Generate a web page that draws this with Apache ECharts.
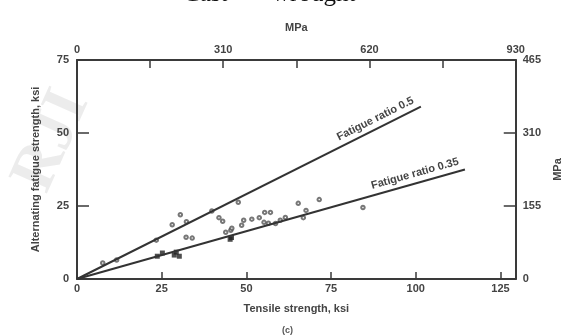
<!DOCTYPE html>
<html>
<head>
<meta charset="utf-8">
<script src="https://cdn.jsdelivr.net/npm/echarts@6/dist/echarts.min.js"></script>
<style>
  html, body { margin: 0; padding: 0; background: #fff; }
  #chart { width: 571px; height: 336px; }
</style>
</head>
<body>
<div id="chart"></div>
<script>
// tensile strength (ksi) vs alternating fatigue strength (ksi)
var openPoints = [
  [7.6, 5.5], [11.7, 6.5], [23.4, 13.3], [28.1, 18.6], [30.5, 22], [32.3, 19.6],
  [32.2, 14.3], [34, 14], [39.8, 23.3], [41.9, 21], [43, 19.8], [43.9, 16],
  [45.4, 16.7], [45.7, 17.4], [47.6, 26.3], [48.6, 18.4], [49.2, 20.1], [51.6, 20.5],
  [53.8, 21], [55.4, 22.8], [57.1, 22.8], [55.2, 19.4], [56.5, 19.1], [58.6, 19],
  [60, 20.1], [61.5, 21.1], [65.3, 25.9], [66.8, 21], [67.6, 23.5], [71.5, 27.2],
  [84.4, 24.5]
];
var filledPoints = [
  [23.7, 7.8], [25.2, 8.9], [28.7, 8.2], [30.2, 7.8], [29.3, 9.2], [45.6, 14.2], [45.2, 13.6]
];
// ratio lines as drawn in the figure (end points)
var ratioHalfEnd = [101.5, 59];
var ratioLowEnd = [114.5, 37.5];
var ksiTicks = [0, 25, 50, 75, 100, 125];

var chart = echarts.init(document.getElementById('chart'));
var axisCol = '#3a3a3a';
var textStyle = { color: '#444', fontSize: 11, fontWeight: 'bold', fontFamily: 'Liberation Sans, Arial, sans-serif' };

function axisLine() {
  return { onZero: false, lineStyle: { color: axisCol, width: 2 } };
}

var option = {
  backgroundColor: '#fff',
  animation: false,
  grid: { left: 77, right: 54, top: 60, bottom: 57 },
  graphic: [
    // faint watermark in the corner of the scan
    { type: 'text', x: 2, y: 175, rotation: 1.15, z: -1,
      style: { text: 'RJI', font: 'bold 64px "Liberation Serif", serif', fill: 'rgba(120,120,120,0.14)' } },
    { type: 'text', left: 183, top: -18, style: { text: 'Cast', font: '25px "Liberation Serif", serif', fill: '#111' } },
    { type: 'text', left: 272, top: -18, style: { text: 'wrought', font: '25px "Liberation Serif", serif', fill: '#111' } },
    { type: 'text', left: 282, top: 326, style: { text: '(c)', font: 'bold 9px "Liberation Sans", sans-serif', fill: '#555' } }
  ],
  xAxis: [
    {
      type: 'value', position: 'bottom', min: 0, max: 129.5,
      name: 'Tensile strength, ksi', nameLocation: 'middle', nameGap: 24,
      nameTextStyle: textStyle,
      axisLine: axisLine(),
      axisTick: { inside: true, length: 7, customValues: ksiTicks, lineStyle: { color: axisCol, width: 1.5 } },
      axisLabel: Object.assign({ customValues: ksiTicks, margin: 4 }, textStyle),
      splitLine: { show: false }
    },
    {
      type: 'value', position: 'top', min: 0, max: 930, interval: 155,
      name: 'MPa', nameLocation: 'middle', nameGap: 27,
      nameTextStyle: textStyle,
      axisLine: axisLine(),
      axisTick: { inside: true, length: 8, lineStyle: { color: axisCol, width: 1.5 } },
      axisLabel: Object.assign({ margin: 5, formatter: function (v) { return v % 310 === 0 ? String(v) : ''; } }, textStyle),
      splitLine: { show: false }
    }
  ],
  yAxis: [
    {
      type: 'value', position: 'left', min: 0, max: 75, interval: 25,
      name: 'Alternating fatigue strength, ksi', nameLocation: 'middle', nameGap: 36,
      nameTextStyle: textStyle,
      axisLine: axisLine(),
      axisTick: { inside: true, length: 12, lineStyle: { color: axisCol, width: 1.5 } },
      axisLabel: Object.assign({ margin: 8 }, textStyle),
      splitLine: { show: false }
    },
    {
      type: 'value', position: 'right', min: 0, max: 465, interval: 155,
      name: 'MPa', nameLocation: 'middle', nameGap: 35,
      nameTextStyle: textStyle,
      axisLine: axisLine(),
      axisTick: { inside: true, length: 12, lineStyle: { color: axisCol, width: 1.5 } },
      axisLabel: Object.assign({ margin: 7 }, textStyle),
      splitLine: { show: false }
    }
  ],
  series: [
    {
      type: 'scatter', xAxisIndex: 0, yAxisIndex: 0,
      data: openPoints, symbol: 'emptyCircle', symbolSize: 3.5,
      itemStyle: { color: '#555', borderColor: '#555', borderWidth: 1 },
      markLine: {
        silent: true, symbol: 'none',
        lineStyle: { color: '#333', width: 2, type: 'solid' },
        label: Object.assign({ show: true, position: 'insideEndTop', distance: 4 }, textStyle),
        data: [
          [{ coord: [0, 0] }, { coord: ratioHalfEnd, label: { formatter: 'Fatigue ratio 0.5' } }],
          [{ coord: [0, 0] }, { coord: ratioLowEnd, label: { formatter: 'Fatigue ratio 0.35' } }]
        ]
      }
    },
    {
      type: 'scatter', xAxisIndex: 0, yAxisIndex: 0,
      data: filledPoints, symbol: 'rect', symbolSize: 5,
      itemStyle: { color: '#222' }
    }
  ]
};

chart.setOption(option);
</script>
</body>
</html>
